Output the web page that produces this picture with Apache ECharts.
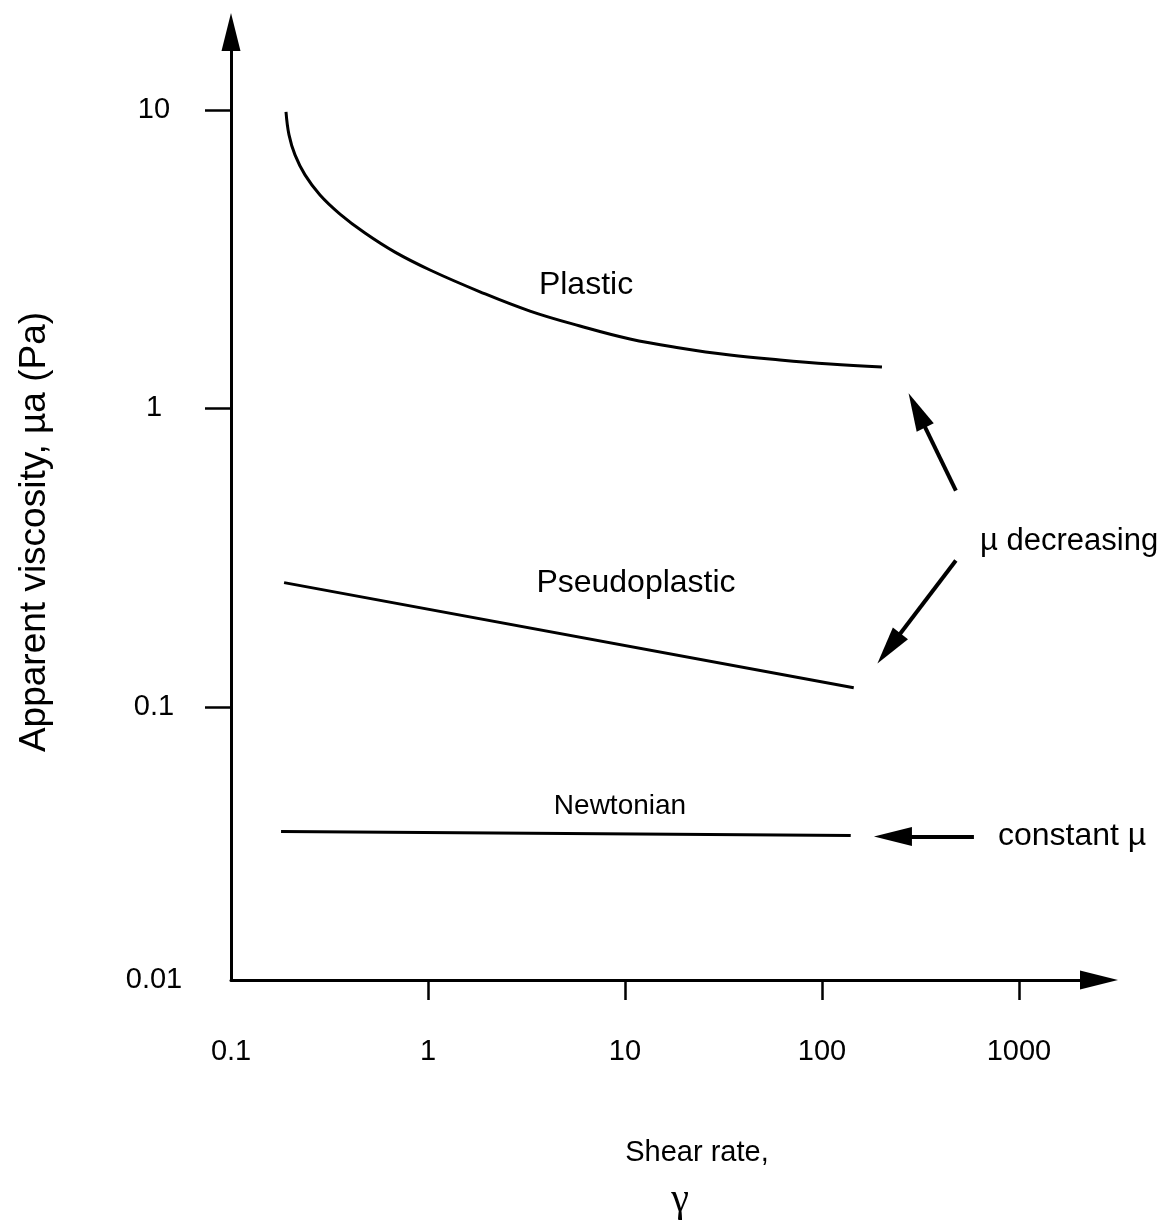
<!DOCTYPE html>
<html>
<head>
<meta charset="utf-8">
<title>Apparent viscosity vs shear rate</title>
<script src="https://cdn.jsdelivr.net/npm/echarts@6/dist/echarts.min.js"></script>
</head>
<body style="margin:0;background:#fff">
<div id="main" style="width:1170px;height:1230px;"></div>
<script>
// values (shear rate, apparent viscosity in Pa)
var plasticX = [0.1902, 0.197, 0.2113, 0.2375, 0.283, 0.3575, 0.4788, 0.68, 1.024, 1.837, 3.295, 5.91, 10.6, 19.0, 34.1, 61.2, 109.8, 201.7];
var plasticY = [9.85, 8.25, 7.07, 6.06, 5.19, 4.48, 3.87, 3.34, 2.91, 2.46, 2.12, 1.89, 1.71, 1.595, 1.51, 1.454, 1.41, 1.377];
var pseudoX = [0.186, 145];
var pseudoY = [0.261, 0.116];
var newtonX = [0.1795, 140];
var newtonY = [0.0383, 0.0371];

// annotation arrows: [tailX, tailY, headX, headY]
var arrows = [
    [478.6, 0.531, 303.5, 0.985],
    [478.6, 0.3095, 218.8, 0.157],
    [591, 0.0368, 229.3, 0.0368]
];

var xTicks = [1, 10, 100, 1000];
var xLabelAt = [0.1001, 1, 10, 100, 1000];
var yTicks = [0.1, 1, 10];
var yLabelAt = [0.0122, 0.1, 1, 10];
var tickText = { '-2': '0.01', '-1': '0.1', '0': '1', '1': '10', '2': '100', '3': '1000' };

function pairs(xs, ys) {
    var out = [];
    for (var i = 0; i < xs.length; i++) out.push([xs[i], ys[i]]);
    return out;
}
function logLabel(v) {
    return tickText[String(Math.round(Math.log10(v)))] || '';
}

var font = "'Liberation Sans', Arial, sans-serif";
var curveStyle = { color: '#000', width: 3 };

var myChart = echarts.init(document.getElementById('main'));

var option = {
    animation: false,
    backgroundColor: '#fff',
    grid: { left: 231, right: 71, top: 32, bottom: 250 },
    xAxis: {
        type: 'log',
        min: 0.1,
        max: 2550,
        splitLine: { show: false },
        axisLine: {
            lineStyle: { color: '#000', width: 3 },
            symbol: ['none', 'triangle'],
            symbolSize: [19, 38]
        },
        axisTick: { customValues: xTicks, length: 20, lineStyle: { color: '#000', width: 2.5 } },
        axisLabel: {
            customValues: xLabelAt,
            formatter: logLabel,
            color: '#000',
            fontFamily: font,
            fontSize: 29,
            margin: 72,
            verticalAlign: 'middle'
        }
    },
    yAxis: {
        type: 'log',
        min: 0.01217,
        max: 18.25,
        splitLine: { show: false },
        axisLine: {
            lineStyle: { color: '#000', width: 3 },
            symbol: ['none', 'triangle'],
            symbolSize: [19, 38]
        },
        axisTick: { customValues: yTicks, length: 26, lineStyle: { color: '#000', width: 2.5 } },
        axisLabel: {
            customValues: yLabelAt,
            formatter: logLabel,
            color: '#000',
            fontFamily: font,
            fontSize: 29,
            margin: 77,
            align: 'center'
        }
    },
    series: [
        {
            name: 'Plastic',
            type: 'line',
            data: pairs(plasticX, plasticY),
            smooth: 0.4,
            showSymbol: false,
            lineStyle: curveStyle
        },
        {
            name: 'Pseudoplastic',
            type: 'line',
            data: pairs(pseudoX, pseudoY),
            showSymbol: false,
            lineStyle: curveStyle
        },
        {
            name: 'Newtonian',
            type: 'line',
            data: pairs(newtonX, newtonY),
            showSymbol: false,
            lineStyle: curveStyle
        },
        {
            name: 'arrows',
            type: 'line',
            data: [],
            markLine: {
                silent: true,
                symbol: ['none', 'triangle'],
                symbolSize: [19, 38],
                label: { show: false },
                lineStyle: { color: '#000', width: 4, type: 'solid' },
                data: arrows.map(function (a) {
                    return [{ coord: [a[0], a[1]] }, { coord: [a[2], a[3]] }];
                })
            }
        }
    ],
    graphic: [
        { type: 'text', x: 35, y: 532, rotation: Math.PI / 2,
          style: { text: 'Apparent viscosity, µa (Pa)', font: '37px ' + font, fill: '#000', align: 'center', verticalAlign: 'middle' } },
        { type: 'text', x: 586, y: 285,
          style: { text: 'Plastic', font: '32px ' + font, fill: '#000', align: 'center', verticalAlign: 'middle' } },
        { type: 'text', x: 636, y: 583,
          style: { text: 'Pseudoplastic', font: '32px ' + font, fill: '#000', align: 'center', verticalAlign: 'middle' } },
        { type: 'text', x: 620, y: 806,
          style: { text: 'Newtonian', font: '28px ' + font, fill: '#000', align: 'center', verticalAlign: 'middle' } },
        { type: 'text', x: 980, y: 541,
          style: { text: 'µ decreasing', font: '31px ' + font, fill: '#000', align: 'left', verticalAlign: 'middle' } },
        { type: 'text', x: 998, y: 836,
          style: { text: 'constant µ', font: '32px ' + font, fill: '#000', align: 'left', verticalAlign: 'middle' } },
        { type: 'text', x: 697, y: 1153,
          style: { text: 'Shear rate,', font: '29px ' + font, fill: '#000', align: 'center', verticalAlign: 'middle' } },
        { type: 'text', x: 680, y: 1200,
          style: { text: 'γ', font: '40px "Liberation Serif", serif', fill: '#000', align: 'center', verticalAlign: 'middle' } }
    ]
};

myChart.setOption(option);
</script>
</body>
</html>
